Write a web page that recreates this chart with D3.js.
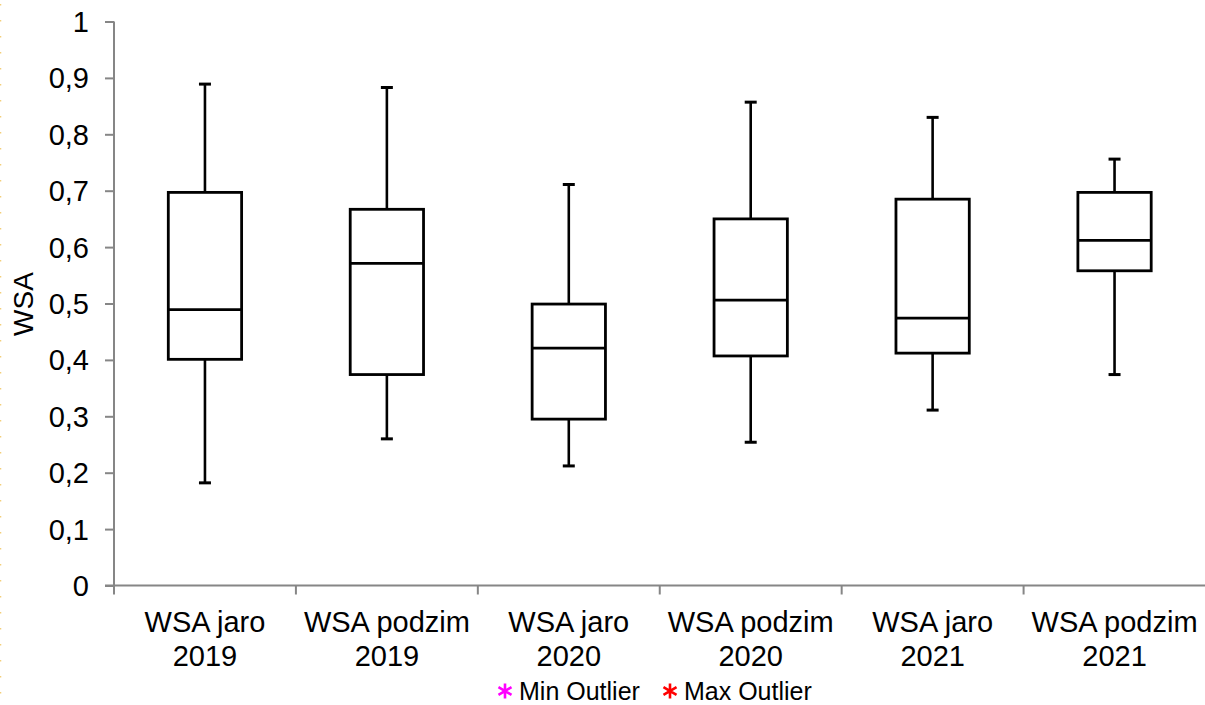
<!DOCTYPE html>
<html>
<head>
<meta charset="utf-8">
<script src="https://cdn.jsdelivr.net/npm/d3@7"></script>
<style>
  body { margin: 0; background: #fff; }
  svg { display: block; font-family: "Liberation Sans", Arial, sans-serif; }
</style>
</head>
<body>
<div id="boxPlotGoesHere"></div>
<script>
// box plot of WSA by season, drawn with d3

var labelLine1 = ["WSA jaro", "WSA podzim", "WSA jaro", "WSA podzim", "WSA jaro", "WSA podzim"],
    labelLine2 = ["2019", "2019", "2020", "2020", "2021", "2021"],
    whiskMin = [0.182, 0.260, 0.212, 0.254, 0.311, 0.374],
    q1 = [0.401, 0.374, 0.295, 0.407, 0.412, 0.558],
    med = [0.489, 0.571, 0.421, 0.506, 0.474, 0.612],
    q3 = [0.697, 0.667, 0.499, 0.650, 0.685, 0.697],
    whiskMax = [0.889, 0.883, 0.711, 0.857, 0.830, 0.756],
    yTicks = [0, 0.1, 0.2, 0.3, 0.4, 0.5, 0.6, 0.7, 0.8, 0.9, 1],
    legendNames = ["Min Outlier", "Max Outlier"],
    legendColors = ["#ff00ff", "#ff0000"];

var width = 1205, height = 705,
    plotLeft = 114, plotRight = 1205.5, plotTop = 21.5, plotBottom = 585.5,
    boxFrac = 0.403, capW = 12;

var boxes = labelLine1.map(function(d, i){
  return {id: i, lo: whiskMin[i], q1: q1[i], med: med[i], q3: q3[i], hi: whiskMax[i]};
});

var xScale = d3.scaleBand().domain(d3.range(labelLine1.length))
      .range([plotLeft, plotRight]).padding(0),
    yScale = d3.scaleLinear().domain([0, 1]).range([plotBottom, plotTop]);

var svg = d3.select("#boxPlotGoesHere")
  .append("svg")
  .attr("width", width)
  .attr("height", height);

// faint dotted frame edge on the left
svg.append("line")
  .attr("x1", 0.5).attr("x2", 0.5).attr("y1", 4).attr("y2", height)
  .style("stroke", "#f3cf7a")
  .style("stroke-width", 1.5)
  .style("stroke-dasharray", "1.5,14.5");

// y axis
var yAxis = d3.axisLeft(yScale).tickValues(yTicks).tickSize(9).tickFormat("");
var gy = svg.append("g")
  .attr("transform", "translate(" + plotLeft + ",0)")
  .call(yAxis);
gy.select(".domain").attr("stroke", "#868686").attr("stroke-width", 2)
  .attr("d", "M0," + plotTop + "V" + (plotBottom + 9));
gy.selectAll(".tick line").attr("stroke", "#868686").attr("stroke-width", 2);

svg.selectAll(".ylab")
  .data(yTicks)
  .join("text")
  .attr("class", "ylab")
  .attr("x", 89)
  .attr("y", d => yScale(d))
  .attr("text-anchor", "end")
  .attr("dy", "0.36em")
  .style("font-size", "29px")
  .text(d => d3.format("")(d).replace(".", ","));

// x axis with ticks on category boundaries
svg.append("line")
  .attr("x1", plotLeft - 9).attr("x2", plotRight)
  .attr("y1", plotBottom).attr("y2", plotBottom)
  .style("stroke", "#868686").style("stroke-width", 2);
svg.selectAll(".xtick")
  .data(d3.range(1, labelLine1.length))
  .join("line")
  .attr("class", "xtick")
  .attr("x1", d => xScale(d)).attr("x2", d => xScale(d))
  .attr("y1", plotBottom).attr("y2", plotBottom + 9)
  .style("stroke", "#868686").style("stroke-width", 2);

var xlab = svg.selectAll(".xlab")
  .data(boxes)
  .join("g")
  .attr("class", "xlab")
  .attr("transform", d => "translate(" + (xScale(d.id) + xScale.bandwidth() / 2) + ",0)");
xlab.append("text").attr("y", 632).attr("text-anchor", "middle")
  .style("font-size", "29px").text(d => labelLine1[d.id]);
xlab.append("text").attr("y", 666).attr("text-anchor", "middle")
  .style("font-size", "29px").text(d => labelLine2[d.id]);

// y title
svg.append("text")
  .attr("transform", "translate(33,304) rotate(-90)")
  .attr("text-anchor", "middle")
  .style("font-size", "28px")
  .text("WSA");

// boxes
var bw = xScale.bandwidth() * boxFrac;
var g = svg.selectAll(".box")
  .data(boxes)
  .join("g")
  .attr("class", "box")
  .attr("transform", d => "translate(" + (xScale(d.id) + xScale.bandwidth() / 2) + ",0)");

g.append("line")   // upper whisker
  .attr("x1", 0).attr("x2", 0)
  .attr("y1", d => yScale(d.q3)).attr("y2", d => yScale(d.hi))
  .style("stroke", "#000").style("stroke-width", 2.6);
g.append("line")   // lower whisker
  .attr("x1", 0).attr("x2", 0)
  .attr("y1", d => yScale(d.q1)).attr("y2", d => yScale(d.lo))
  .style("stroke", "#000").style("stroke-width", 2.6);
g.append("line")
  .attr("x1", -capW / 2).attr("x2", capW / 2)
  .attr("y1", d => yScale(d.hi)).attr("y2", d => yScale(d.hi))
  .style("stroke", "#000").style("stroke-width", 3);
g.append("line")
  .attr("x1", -capW / 2).attr("x2", capW / 2)
  .attr("y1", d => yScale(d.lo)).attr("y2", d => yScale(d.lo))
  .style("stroke", "#000").style("stroke-width", 3);
g.append("rect")
  .attr("x", -bw / 2).attr("width", bw)
  .attr("y", d => yScale(d.q3))
  .attr("height", d => yScale(d.q1) - yScale(d.q3))
  .style("fill", "#fff").style("stroke", "#000").style("stroke-width", 2.8);
g.append("line")   // median
  .attr("x1", -bw / 2).attr("x2", bw / 2)
  .attr("y1", d => yScale(d.med)).attr("y2", d => yScale(d.med))
  .style("stroke", "#000").style("stroke-width", 2.8);

// legend
var legX = [505, 670];
var leg = svg.selectAll(".leg")
  .data(legendNames)
  .join("g")
  .attr("class", "leg")
  .attr("transform", (d, i) => "translate(" + legX[i] + ",691)");
leg.append("path")
  .attr("d", d3.symbol(d3.symbolAsterisk, 160))
  .style("stroke", (d, i) => legendColors[i])
  .style("stroke-width", 2.6)
  .style("fill", "none");
leg.append("text")
  .attr("x", 14)
  .attr("dy", "0.36em")
  .style("font-size", "25px")
  .text(d => d);
</script>
</body>
</html>
